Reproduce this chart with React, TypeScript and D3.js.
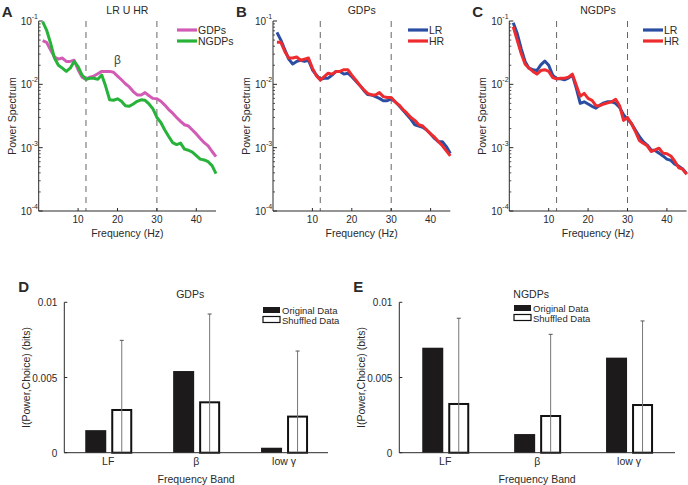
import React from "react";
import * as d3 from "d3";

// frequency axis (Hz)
const freqs = [
  1, 2, 3, 4, 5, 6, 7, 8, 9, 10, 11, 12, 13, 14, 15, 16, 17, 18, 19, 20, 21, 22,
  23, 24, 25, 26, 27, 28, 29, 30, 31, 32, 33, 34, 35, 36, 37, 38, 39, 40, 41,
  42, 43, 44, 45,
];

// panel A: LR U HR
const gdpsAll = [
  0.049, 0.046, 0.035, 0.027, 0.025, 0.026, 0.023, 0.023, 0.024, 0.017, 0.013,
  0.012, 0.013, 0.0135, 0.0147, 0.016, 0.016, 0.016, 0.0155, 0.0135, 0.0118,
  0.0102, 0.0091, 0.0077, 0.0068, 0.0068, 0.0074, 0.0066, 0.006, 0.0059,
  0.0054, 0.0047, 0.004, 0.0035, 0.003, 0.0026, 0.0023, 0.0022, 0.0019,
  0.00165, 0.0014, 0.0012, 0.00107, 0.00087, 0.00072,
];
const ngdpsAll = [
  0.098, 0.072, 0.045, 0.026, 0.02, 0.018, 0.016, 0.018, 0.023, 0.019, 0.014,
  0.012, 0.0125, 0.0125, 0.012, 0.014, 0.0093, 0.0057, 0.0056, 0.0059, 0.0054,
  0.0046, 0.0045, 0.0049, 0.0054, 0.0057, 0.0056, 0.0049, 0.0041, 0.003,
  0.0025, 0.0019, 0.0015, 0.0012, 0.00112, 0.00118, 0.00095, 0.00091, 0.00085,
  0.00075, 0.00066, 0.00064, 0.0006, 0.00052, 0.00039,
];

// panel B: GDPs
const gdpsLR = [
  0.066, 0.05, 0.035, 0.025, 0.021, 0.023, 0.024, 0.023, 0.024, 0.017, 0.014,
  0.012, 0.0125, 0.0125, 0.014, 0.016, 0.016, 0.0145, 0.015, 0.0132, 0.0113,
  0.0097, 0.0081, 0.0069, 0.0068, 0.0064, 0.006, 0.0055, 0.0055, 0.0059,
  0.0053, 0.0046, 0.0039, 0.0033, 0.0028, 0.0023, 0.0022, 0.0021, 0.0019,
  0.00165, 0.0014, 0.00124, 0.00124, 0.00104, 0.00081,
];
const gdpsHR = [
  0.046, 0.046, 0.033, 0.026, 0.026, 0.027, 0.024, 0.025, 0.026, 0.018,
  0.0137, 0.0117, 0.0132, 0.015, 0.0145, 0.016, 0.016, 0.017, 0.017, 0.014,
  0.0117, 0.0097, 0.0083, 0.0072, 0.0068, 0.0068, 0.0074, 0.0064, 0.0062,
  0.0062, 0.0053, 0.0047, 0.004, 0.0035, 0.003, 0.0027, 0.0023, 0.0022,
  0.0019, 0.00165, 0.00146, 0.00124, 0.00107, 0.00089, 0.00074,
];

// panel C: NGDPs
const ngdpsLR = [
  0.094, 0.064, 0.037, 0.023, 0.018, 0.017, 0.0165, 0.0203, 0.0233, 0.02,
  0.014, 0.0122, 0.0122, 0.0118, 0.0125, 0.014, 0.0087, 0.005, 0.0053, 0.0049,
  0.0045, 0.0042, 0.0047, 0.0051, 0.0053, 0.0053, 0.005, 0.0043, 0.0033,
  0.0028, 0.0024, 0.0019, 0.0015, 0.00124, 0.0011, 0.00092, 0.0009, 0.00082,
  0.00074, 0.00066, 0.00063, 0.00055, 0.00051, 0.00046, 0.00039,
];
const ngdpsHR = [
  0.081, 0.05, 0.031, 0.021, 0.018, 0.016, 0.0145, 0.0165, 0.017, 0.016,
  0.0128, 0.0122, 0.0125, 0.0125, 0.013, 0.0145, 0.0097, 0.0065, 0.0072,
  0.006, 0.0056, 0.0046, 0.0046, 0.0049, 0.0051, 0.0053, 0.0058, 0.0046,
  0.0027, 0.003, 0.0024, 0.0018, 0.0013, 0.00117, 0.00107, 0.00087, 0.00092,
  0.00098, 0.00082, 0.0008, 0.00074, 0.00061, 0.00048, 0.00046, 0.00038,
];

const bandEdges = [12, 30];
const freqTicks = [10, 20, 30, 40];
const powerTicks = [1e-4, 1e-3, 1e-2, 1e-1];

// panels D / E
const bands = ["LF", "β", "low γ"];
const gdpsOrig = [0.0015, 0.00543, 0.00033];
const gdpsShuf = [0.00284, 0.00335, 0.0024];
const gdpsShufErr = [0.00463, 0.00587, 0.00436];
const ngdpsOrig = [0.00698, 0.00124, 0.00632];
const ngdpsShuf = [0.00324, 0.00244, 0.00317];
const ngdpsShufErr = [0.0057, 0.00543, 0.00559];
const infoTicks = [0, 0.005, 0.01];
const infoTickLabels = ["0", "0.005", "0.01"];

const FONT = "'Liberation Sans', Arial, sans-serif";
const INK = "#2a2a2a";

const MAGENTA = "#d25cb5";
const GREEN = "#27b23a";
const BLUE = "#2b4ea3";
const RED = "#ee2b2e";

type Series = { values: number[]; color: string; name: string };

function SpectrumPanel({
  left,
  letter,
  title,
  series,
  legendX,
  beta,
}: {
  left: number;
  letter: string;
  title: string;
  series: Series[];
  legendX: number;
  beta?: boolean;
}) {
  const top = 21;
  const bottom = 211;
  const x = d3.scaleLinear().domain([0, 45]).range([left, left + 177.3]);
  const y = d3.scaleLog().domain([1e-4, 1e-1]).range([bottom, top]);
  const line = d3
    .line<number>()
    .x((_, i) => x(freqs[i]))
    .y((d) => y(d));
  const minor = y.ticks().filter((t) => !powerTicks.includes(t));
  const right = x(45);
  const cx = (left + right) / 2;

  return (
    <g fontFamily={FONT} fill={INK}>
      <text x={left - 37} y={17} fontSize={15} fontWeight="bold">
        {letter}
      </text>
      <text x={cx} y={14} fontSize={10.5} textAnchor="middle">
        {title}
      </text>
      {bandEdges.map((b) => (
        <line
          key={b}
          x1={x(b)}
          x2={x(b)}
          y1={top}
          y2={bottom}
          stroke="#666"
          strokeWidth={1}
          strokeDasharray="6,5"
        />
      ))}
      {series.map((s) => (
        <path
          key={s.name}
          d={line(s.values) || ""}
          fill="none"
          stroke={s.color}
          strokeWidth={3}
          strokeLinejoin="round"
        />
      ))}
      {beta && (
        <text x={x(20)} y={64} fontSize={12} textAnchor="middle" fill="#444">
          β
        </text>
      )}
      {/* axes */}
      <line x1={left} x2={left} y1={top} y2={bottom} stroke={INK} />
      <line x1={left} x2={right} y1={bottom} y2={bottom} stroke={INK} />
      {freqTicks.map((t) => (
        <g key={t}>
          <line x1={x(t)} x2={x(t)} y1={bottom} y2={bottom - 3} stroke={INK} />
          <text x={x(t)} y={bottom + 12} fontSize={10} textAnchor="middle">
            {t}
          </text>
        </g>
      ))}
      {minor.map((t) => (
        <line
          key={t}
          x1={left}
          x2={left + 2}
          y1={y(t)}
          y2={y(t)}
          stroke={INK}
          strokeWidth={0.8}
        />
      ))}
      {powerTicks.map((t) => (
        <g key={t}>
          <line x1={left} x2={left + 4} y1={y(t)} y2={y(t)} stroke={INK} />
          <text x={left - 18} y={y(t) + 4} fontSize={10} textAnchor="start">
            10
          </text>
          <text x={left - 7} y={y(t) - 2} fontSize={7} textAnchor="start">
            {Math.round(Math.log10(t))}
          </text>
        </g>
      ))}
      <text x={cx} y={237} fontSize={10.5} textAnchor="middle">
        Frequency (Hz)
      </text>
      <text
        transform={`translate(${left - 23},${(top + bottom) / 2}) rotate(-90)`}
        fontSize={10.5}
        textAnchor="middle"
      >
        Power Spectrum
      </text>
      {/* legend */}
      {series.map((s, i) => (
        <g key={s.name}>
          <line
            x1={legendX}
            x2={legendX + 20}
            y1={30 + i * 11}
            y2={30 + i * 11}
            stroke={s.color}
            strokeWidth={3.2}
          />
          <text x={legendX + 21} y={34 + i * 11} fontSize={10.5}>
            {s.name}
          </text>
        </g>
      ))}
    </g>
  );
}

function BarPanel({
  left,
  right,
  letter,
  title,
  orig,
  shuf,
  err,
  legendX,
  legendY,
}: {
  left: number;
  right: number;
  letter: string;
  title: string;
  orig: number[];
  shuf: number[];
  err: number[];
  legendX: number;
  legendY: number;
}) {
  const top = 302.3;
  const bottom = 452.7;
  const x = d3.scaleBand().domain(bands).range([left, right]).padding(0);
  const y = d3.scaleLinear().domain([0, 0.01]).range([bottom, top]);
  const center = (b: string) => (x(b) || 0) + x.bandwidth() / 2;
  const cx = (left + right) / 2;

  return (
    <g fontFamily={FONT} fill={INK}>
      <text x={left - 46} y={292} fontSize={15} fontWeight="bold">
        {letter}
      </text>
      <text x={cx - 6} y={298} fontSize={10.5} textAnchor="middle">
        {title}
      </text>
      {bands.map((b, i) => {
        const c = center(b);
        const v = shuf[i];
        const lo = Math.max(0, v - err[i]);
        const hi = v + err[i];
        return (
          <g key={b}>
            <rect
              x={c - 23}
              y={y(orig[i])}
              width={21}
              height={bottom - y(orig[i])}
              fill="#1c1a1a"
            />
            <rect
              x={c + 4}
              y={y(v)}
              width={19}
              height={bottom - y(v)}
              fill="#fff"
              stroke="#111"
              strokeWidth={2}
            />
            <line
              x1={c + 13.5}
              x2={c + 13.5}
              y1={y(lo)}
              y2={y(hi)}
              stroke="#777"
              strokeWidth={1}
            />
            <line
              x1={c + 11.5}
              x2={c + 15.5}
              y1={y(hi)}
              y2={y(hi)}
              stroke="#555"
              strokeWidth={1}
            />
            <text x={c} y={465} fontSize={10.5} textAnchor="middle">
              {b}
            </text>
          </g>
        );
      })}
      <line x1={left} x2={left} y1={top} y2={bottom} stroke={INK} />
      <line x1={left} x2={right} y1={bottom} y2={bottom} stroke={INK} />
      {infoTicks.map((t, i) => (
        <g key={t}>
          <line x1={left} x2={left + 3} y1={y(t)} y2={y(t)} stroke={INK} />
          <text x={left - 7} y={y(t) + 4} fontSize={10} textAnchor="end">
            {infoTickLabels[i]}
          </text>
        </g>
      ))}
      <text x={cx} y={483} fontSize={10.5} textAnchor="middle">
        Frequency Band
      </text>
      <text
        transform={`translate(${left - 34},${(top + bottom) / 2}) rotate(-90)`}
        fontSize={10.5}
        textAnchor="middle"
      >
        I(Power,Choice) (bits)
      </text>
      {/* legend */}
      <rect x={legendX} y={legendY} width={17} height={6} fill="#1c1a1a" />
      <text x={legendX + 19} y={legendY + 6.5} fontSize={9.5}>
        Original Data
      </text>
      <rect
        x={legendX}
        y={legendY + 9.5}
        width={17}
        height={6}
        fill="#fff"
        stroke="#111"
        strokeWidth={1.2}
      />
      <text x={legendX + 19} y={legendY + 16.5} fontSize={9.5}>
        Shuffled Data
      </text>
    </g>
  );
}

export default function App() {
  return (
    <div style={{ position: "absolute", left: 0, top: 0 }}>
      <svg width={688} height={485} style={{ display: "block" }}>
        <rect width={688} height={485} fill="#fff" />
        <SpectrumPanel
          left={38.7}
          letter="A"
          title="LR U HR"
          legendX={177}
          beta
          series={[
            { values: gdpsAll, color: MAGENTA, name: "GDPs" },
            { values: ngdpsAll, color: GREEN, name: "NGDPs" },
          ]}
        />
        <SpectrumPanel
          left={273}
          letter="B"
          title="GDPs"
          legendX={408}
          series={[
            { values: gdpsLR, color: BLUE, name: "LR" },
            { values: gdpsHR, color: RED, name: "HR" },
          ]}
        />
        <SpectrumPanel
          left={509.3}
          letter="C"
          title="NGDPs"
          legendX={643}
          series={[
            { values: ngdpsLR, color: BLUE, name: "LR" },
            { values: ngdpsHR, color: RED, name: "HR" },
          ]}
        />
        <BarPanel
          left={64.3}
          right={328}
          letter="D"
          title="GDPs"
          orig={gdpsOrig}
          shuf={gdpsShuf}
          err={gdpsShufErr}
          legendX={263}
          legendY={307}
        />
        <BarPanel
          left={399.3}
          right={675}
          letter="E"
          title="NGDPs"
          orig={ngdpsOrig}
          shuf={ngdpsShuf}
          err={ngdpsShufErr}
          legendX={514}
          legendY={305}
        />
      </svg>
    </div>
  );
}
